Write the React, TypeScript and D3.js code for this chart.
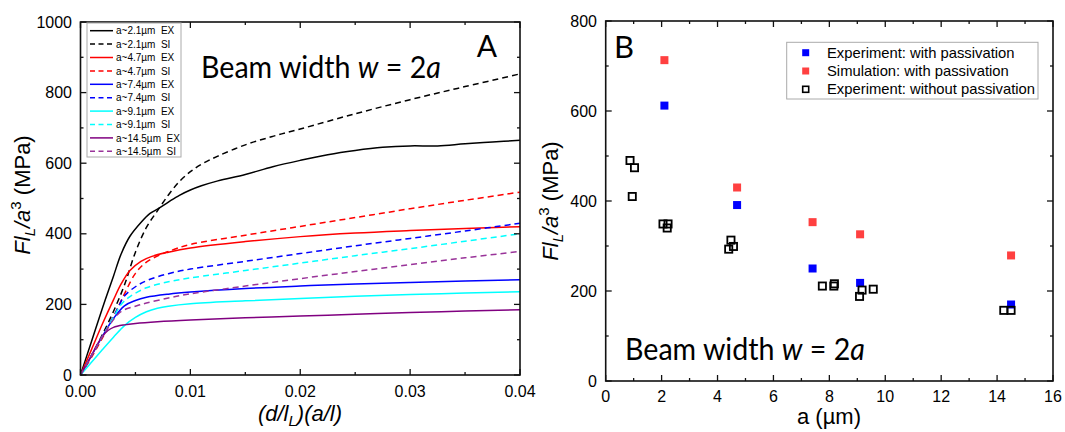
import React from "react";
import * as d3 from "d3";

// ---------- Panel A data: [strain, stress MPa] ----------
const ex21: [number, number][] = [[0,0],[0.001,95],[0.002,190],[0.003,280],[0.0037,343],[0.0045,393],[0.0055,432],[0.0063,457],[0.007,470],[0.008,490],[0.009,509],[0.01,524],[0.011,536],[0.0125,550],[0.015,568],[0.0175,590],[0.02,608],[0.0225,624],[0.025,636],[0.0275,645],[0.03,649],[0.0325,649],[0.035,655],[0.0375,660],[0.04,665]];
const si21: [number, number][] = [[0,0],[0.001,55],[0.002,115],[0.003,180],[0.004,255],[0.005,348],[0.006,418],[0.007,465],[0.008,510],[0.009,548],[0.01,576],[0.011,597],[0.0125,620],[0.015,652],[0.0175,676],[0.02,697],[0.025,740],[0.03,780],[0.035,817],[0.04,853]];
const ex47: [number, number][] = [[0,0],[0.001,72],[0.002,145],[0.003,213],[0.0037,258],[0.0045,296],[0.0055,322],[0.0065,336],[0.008,348],[0.01,360],[0.015,378],[0.02,392],[0.025,402],[0.03,409],[0.035,415],[0.04,420]];
const si47: [number, number][] = [[0,0],[0.001,50],[0.002,105],[0.003,165],[0.004,230],[0.005,288],[0.006,320],[0.007,337],[0.008,350],[0.01,370],[0.015,396],[0.02,421],[0.025,446],[0.03,471],[0.035,495],[0.04,518]];
const ex74: [number, number][] = [[0,0],[0.001,55],[0.002,110],[0.003,160],[0.004,196],[0.005,211],[0.006,220],[0.008,229],[0.01,235],[0.015,245],[0.02,252],[0.025,258],[0.03,262],[0.035,266],[0.04,270]];
const si74: [number, number][] = [[0,0],[0.001,55],[0.002,110],[0.003,165],[0.0035,196],[0.004,224],[0.005,250],[0.006,267],[0.008,287],[0.01,300],[0.015,322],[0.02,344],[0.025,366],[0.03,387],[0.035,408],[0.04,430]];
const ex91: [number, number][] = [[0,0],[0.001,36],[0.002,72],[0.003,107],[0.004,140],[0.005,163],[0.006,179],[0.007,189],[0.008,195],[0.01,202],[0.015,210],[0.02,217],[0.025,223],[0.03,228],[0.035,232],[0.04,236]];
const si91: [number, number][] = [[0,0],[0.001,55],[0.002,110],[0.003,163],[0.0037,200],[0.0045,222],[0.006,247],[0.008,264],[0.01,275],[0.015,296],[0.02,317],[0.025,338],[0.03,358],[0.035,379],[0.04,400]];
const ex145: [number, number][] = [[0,0],[0.001,55],[0.0015,85],[0.002,110],[0.0025,126],[0.003,135],[0.004,142],[0.005,146],[0.007,151],[0.01,156],[0.015,162],[0.02,167],[0.025,172],[0.03,177],[0.035,181],[0.04,185]];
const si145: [number, number][] = [[0,0],[0.001,55],[0.002,110],[0.003,157],[0.0035,175],[0.004,185],[0.005,195],[0.006,204],[0.008,218],[0.01,230],[0.015,252],[0.02,273],[0.025,293],[0.03,313],[0.035,332],[0.04,350]];

const seriesA = [
  { label: "a~2.1µm  EX", data: ex21, color: "#000000", dashed: false },
  { label: "a~2.1µm  SI", data: si21, color: "#000000", dashed: true },
  { label: "a~4.7µm  EX", data: ex47, color: "#ff0000", dashed: false },
  { label: "a~4.7µm  SI", data: si47, color: "#ff0000", dashed: true },
  { label: "a~7.4µm  EX", data: ex74, color: "#0000ff", dashed: false },
  { label: "a~7.4µm  SI", data: si74, color: "#0000ff", dashed: true },
  { label: "a~9.1µm  EX", data: ex91, color: "#00ffff", dashed: false },
  { label: "a~9.1µm  SI", data: si91, color: "#00ffff", dashed: true },
  { label: "a~14.5µm  EX", data: ex145, color: "#800080", dashed: false },
  { label: "a~14.5µm  SI", data: si145, color: "#993399", dashed: true },
];

const xTicksA = [0, 0.01, 0.02, 0.03, 0.04];
const xTickLabelsA = ["0.00", "0.01", "0.02", "0.03", "0.04"];
const yTicksA = [0, 200, 400, 600, 800, 1000];

// ---------- Panel B data ----------
const expPassA = [2.1, 4.7, 7.4, 9.1, 14.5];
const expPassV = [612, 391, 250, 218, 170];
const simPassA = [2.1, 4.7, 7.4, 9.1, 14.5];
const simPassV = [713, 430, 353, 326, 279];
const expNoA = [0.87, 1.03, 0.95, 2.05, 2.23, 2.2, 4.4, 4.48, 4.57, 7.75, 8.16, 8.18, 9.08, 9.17, 9.57, 14.24, 14.5];
const expNoV = [490, 474, 410, 349, 349, 340, 293, 313, 299, 211, 211, 216, 188, 202, 204, 157, 157];

const xTicksB = [0, 2, 4, 6, 8, 10, 12, 14, 16];
const yTicksB = [0, 200, 400, 600, 800];
const legendB = ["Experiment: with passivation", "Simulation: with passivation", "Experiment: without passivation"];

const FONT = "'Liberation Sans', Arial, sans-serif";
const TITLE_FONT = "Lato, 'Open Sans', sans-serif";

function Frame({ x, y, xMajor, xMinor, yMajor, yMinor }: any) {
  const [x0, x1] = x.range();
  const [y0, y1] = y.range();
  const M = 6, m = 3;
  const ticks: React.ReactNode[] = [];
  xMajor.forEach((v: number, i: number) => {
    const px = x(v);
    ticks.push(<line key={"xb" + i} x1={px} x2={px} y1={y0} y2={y0 - M} />);
    ticks.push(<line key={"xt" + i} x1={px} x2={px} y1={y1} y2={y1 + M} />);
  });
  xMinor.forEach((v: number, i: number) => {
    const px = x(v);
    ticks.push(<line key={"xbm" + i} x1={px} x2={px} y1={y0} y2={y0 - m} />);
    ticks.push(<line key={"xtm" + i} x1={px} x2={px} y1={y1} y2={y1 + m} />);
  });
  yMajor.forEach((v: number, i: number) => {
    const py = y(v);
    ticks.push(<line key={"yl" + i} x1={x0} x2={x0 + M} y1={py} y2={py} />);
    ticks.push(<line key={"yr" + i} x1={x1} x2={x1 - M} y1={py} y2={py} />);
  });
  yMinor.forEach((v: number, i: number) => {
    const py = y(v);
    ticks.push(<line key={"ylm" + i} x1={x0} x2={x0 + m} y1={py} y2={py} />);
    ticks.push(<line key={"yrm" + i} x1={x1} x2={x1 - m} y1={py} y2={py} />);
  });
  return (
    <g stroke="#111" strokeWidth={1.3} fill="none">
      {ticks}
      <rect x={x0} y={y1} width={x1 - x0} height={y0 - y1} strokeWidth={1.6} />
    </g>
  );
}

function YTitle({ cx, cy }: { cx: number; cy: number }) {
  return (
    <text transform={`translate(${cx},${cy}) rotate(-90)`} textAnchor="middle" fontFamily={FONT} fontSize={22} fill="#000">
      <tspan fontStyle="italic">Fl</tspan>
      <tspan fontStyle="italic" fontSize={15} dy={5}>L</tspan>
      <tspan fontStyle="italic" dy={-5}>/a</tspan>
      <tspan fontSize={15} dy={-9}>3</tspan>
      <tspan dy={9}> (MPa)</tspan>
    </text>
  );
}

function BeamText({ x, y }: { x: number; y: number }) {
  return (
    <text x={x} y={y} fontFamily={TITLE_FONT} fontSize={30} fill="#000" textLength={240} lengthAdjust="spacingAndGlyphs">
      Beam width <tspan fontStyle="italic">w</tspan> = 2<tspan fontStyle="italic">a</tspan>
    </text>
  );
}

export default function App() {
  // Panel A scales
  const xA = d3.scaleLinear().domain([0, 0.04]).range([80.5, 520]);
  const yA = d3.scaleLinear().domain([0, 1000]).range([375, 22]);
  const line = d3
    .line<[number, number]>()
    .x((d) => xA(d[0]))
    .y((d) => yA(d[1]))
    .curve(d3.curveCatmullRom.alpha(0.5));

  // Panel B scales
  const xB = d3.scaleLinear().domain([0, 16]).range([605.7, 1053]);
  const yB = d3.scaleLinear().domain([0, 800]).range([381, 21]);

  const legX = 87, legY = 22, legRow = 13.4;

  return (
    <svg width={1065} height={432} style={{ position: "absolute", left: 0, top: 0, background: "#fff" }}>
      <rect width={1065} height={432} fill="#fff" />
      {/* ---------------- Panel A ---------------- */}
      <g>
        {seriesA.map((s, i) => (
          <path
            key={i}
            d={line(s.data) || ""}
            fill="none"
            stroke={s.color}
            strokeWidth={1.5}
            strokeDasharray={s.dashed ? "6,4" : undefined}
          />
        ))}
        <Frame
          x={xA}
          y={yA}
          xMajor={xTicksA}
          xMinor={[0.005, 0.015, 0.025, 0.035]}
          yMajor={yTicksA}
          yMinor={[100, 300, 500, 700, 900]}
        />
        {xTicksA.map((v, i) => (
          <text key={i} x={xA(v)} y={397} textAnchor="middle" fontFamily={FONT} fontSize={16} fill="#000">
            {xTickLabelsA[i]}
          </text>
        ))}
        {yTicksA.map((v, i) => (
          <text key={i} x={72} y={yA(v) + 5.5} textAnchor="end" fontFamily={FONT} fontSize={16} fill="#000">
            {v}
          </text>
        ))}
        <YTitle cx={30} cy={195} />
        <text x={300} y={421} textAnchor="middle" fontFamily={FONT} fontSize={22} fontStyle="italic" fill="#000">
          (d/l<tspan fontSize={15} dy={5}>L</tspan>
          <tspan dy={-5}>)(a/l)</tspan>
        </text>
        {/* legend */}
        <rect x={legX} y={legY + 1} width={94} height={134} fill="#fff" stroke="#aaa" strokeWidth={1} />
        {seriesA.map((s, i) => {
          const cy = 30.7 + i * legRow;
          return (
            <g key={i}>
              <line x1={90} x2={113} y1={cy} y2={cy} stroke={s.color} strokeWidth={1.5} strokeDasharray={s.dashed ? "5,3.5" : undefined} />
              <text x={116} y={cy + 3.6} fontFamily={FONT} fontSize={10} fill="#000" style={{ whiteSpace: "pre" }}>
                {s.label}
              </text>
            </g>
          );
        })}
        <BeamText x={201} y={78} />
        <text x={487} y={57} textAnchor="middle" fontFamily={TITLE_FONT} fontSize={30} fill="#000">A</text>
      </g>

      {/* ---------------- Panel B ---------------- */}
      <g>
        <Frame
          x={xB}
          y={yB}
          xMajor={xTicksB}
          xMinor={[1, 3, 5, 7, 9, 11, 13, 15]}
          yMajor={yTicksB}
          yMinor={[100, 300, 500, 700]}
        />
        {expPassA.map((a, i) => (
          <rect key={"b" + i} x={xB(a) - 4} y={yB(expPassV[i]) - 4} width={8} height={8} fill="#0000ff" />
        ))}
        {simPassA.map((a, i) => (
          <rect key={"r" + i} x={xB(a) - 4} y={yB(simPassV[i]) - 4} width={8} height={8} fill="#ff4040" />
        ))}
        {expNoA.map((a, i) => (
          <rect key={"n" + i} x={xB(a) - 3.6} y={yB(expNoV[i]) - 3.6} width={7.2} height={7.2} fill="none" stroke="#000" strokeWidth={1.8} />
        ))}
        {xTicksB.map((v, i) => (
          <text key={i} x={xB(v)} y={402} textAnchor="middle" fontFamily={FONT} fontSize={16} fill="#000">
            {v}
          </text>
        ))}
        {yTicksB.map((v, i) => (
          <text key={i} x={597} y={yB(v) + 5.5} textAnchor="end" fontFamily={FONT} fontSize={16} fill="#000">
            {v}
          </text>
        ))}
        <YTitle cx={558} cy={201} />
        <text x={829} y={424} textAnchor="middle" fontFamily={FONT} fontSize={22} fill="#000">
          a (µm)
        </text>
        {/* legend */}
        <rect x={786.7} y={42.3} width={251.3} height={56.7} fill="#fff" stroke="#aaa" strokeWidth={1} />
        {legendB.map((t, i) => {
          const cy = 52.7 + i * 18.3;
          return (
            <g key={i}>
              {i === 0 && <rect x={805.7 - 3.5} y={cy - 3.5} width={7} height={7} fill="#0000ff" />}
              {i === 1 && <rect x={805.7 - 3.5} y={cy - 3.5} width={7} height={7} fill="#ff4040" />}
              {i === 2 && <rect x={805.7 - 3} y={cy - 3} width={6} height={6} fill="none" stroke="#000" strokeWidth={1.6} />}
              <text x={827} y={cy + 5} fontFamily={FONT} fontSize={14.8} fill="#000">
                {t}
              </text>
            </g>
          );
        })}
        <text x={624} y={58} textAnchor="middle" fontFamily={TITLE_FONT} fontSize={31} fill="#000">B</text>
        <BeamText x={625} y={360} />
      </g>
    </svg>
  );
}
